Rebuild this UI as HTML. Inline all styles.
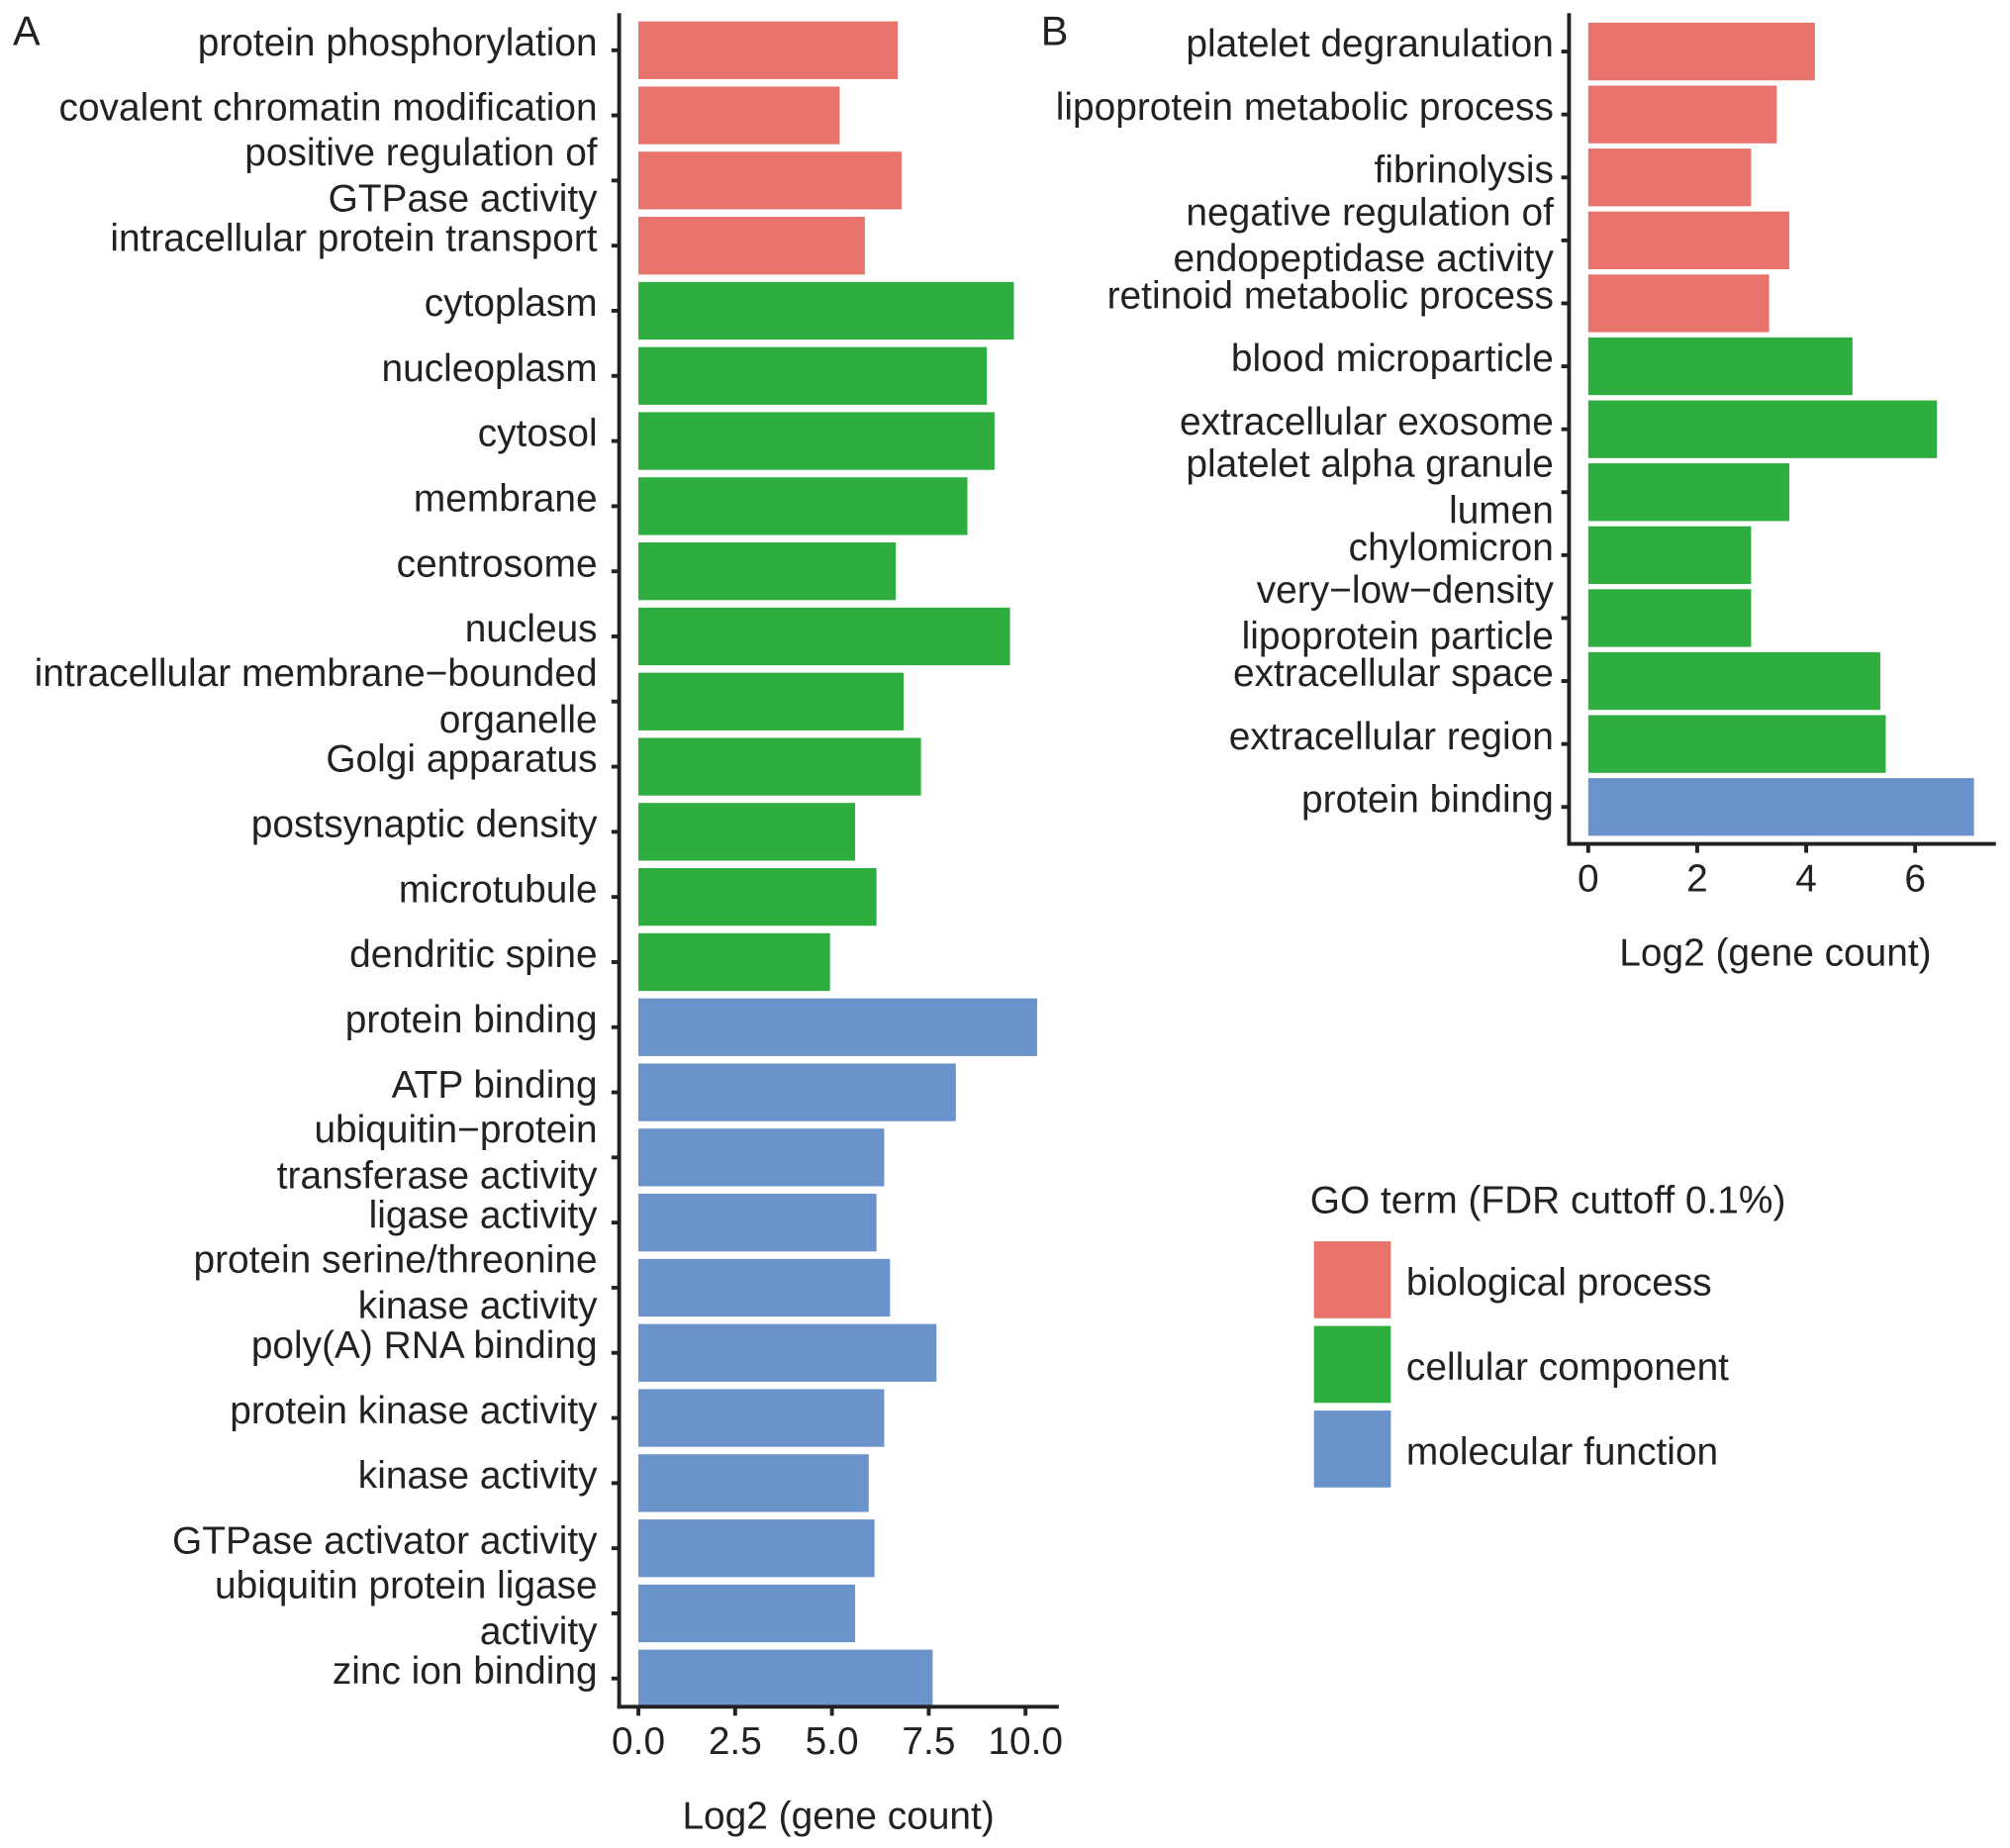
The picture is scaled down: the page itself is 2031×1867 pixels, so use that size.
<!DOCTYPE html>
<html><head><meta charset="utf-8">
<style>html,body{margin:0;padding:0;background:#fff}svg{display:block}
text{font-family:"Liberation Sans",Arial,sans-serif;fill:#222}</style></head>
<body>
<svg id="chart" width="2031" height="1867" viewBox="0 0 1568 1441" xmlns="http://www.w3.org/2000/svg">
<rect width="1568" height="1441" fill="#fff"/>
<g id="gA"></g>
<g id="gB"></g>
<g id="legend">
<text x="1022" y="946" font-size="30">GO term (FDR cuttoff 0.1%)</text>
<rect x="1025" y="968" width="60" height="60" fill="#E8736B"/>
<rect x="1025" y="1034" width="60" height="60" fill="#2DAE3E"/>
<rect x="1025" y="1100" width="60" height="60" fill="#6B93CB"/>
<text x="1097" y="1010" font-size="30">biological process</text>
<text x="1097" y="1076" font-size="30">cellular component</text>
<text x="1097" y="1142" font-size="30">molecular function</text>
</g>
<text x="10" y="35" font-size="32">A</text>
<text x="812" y="35" font-size="32">B</text>
</svg>
<script>
const catsA = ["protein phosphorylation","covalent chromatin modification","positive regulation of|GTPase activity","intracellular protein transport","cytoplasm","nucleoplasm","cytosol","membrane","centrosome","nucleus","intracellular membrane\u2212bounded|organelle","Golgi apparatus","postsynaptic density","microtubule","dendritic spine","protein binding","ATP binding","ubiquitin\u2212protein|transferase activity","ligase activity","protein serine/threonine|kinase activity","poly(A) RNA binding","protein kinase activity","kinase activity","GTPase activator activity","ubiquitin protein ligase|activity","zinc ion binding"];
const valsA = [6.7,5.2,6.8,5.85,9.7,9.0,9.2,8.5,6.65,9.6,6.85,7.3,5.6,6.15,4.95,10.3,8.2,6.35,6.15,6.5,7.7,6.35,5.95,6.1,5.6,7.6];
const groupA = ["bp","bp","bp","bp","cc","cc","cc","cc","cc","cc","cc","cc","cc","cc","cc","mf","mf","mf","mf","mf","mf","mf","mf","mf","mf","mf"];
const ticksA = ["0.0","2.5","5.0","7.5","10.0"];
const tickValsA = [0,2.5,5,7.5,10];
const catsB = ["platelet degranulation","lipoprotein metabolic process","fibrinolysis","negative regulation of|endopeptidase activity","retinoid metabolic process","blood microparticle","extracellular exosome","platelet alpha granule|lumen","chylomicron","very\u2212low\u2212density|lipoprotein particle","extracellular space","extracellular region","protein binding"];
const valsB = [4.16,3.46,2.99,3.69,3.32,4.85,6.4,3.69,2.99,2.99,5.36,5.46,7.08];
const groupB = ["bp","bp","bp","bp","bp","cc","cc","cc","cc","cc","cc","cc","mf"];
const ticksB = ["0","2","4","6"];
const tickValsB = [0,2,4,6];
const colors = {bp:"#E8736B", cc:"#2DAE3E", mf:"#6B93CB"};
const NS="http://www.w3.org/2000/svg";
function mk(tag, attrs, parent){const e=document.createElementNS(NS,tag);for(const k in attrs)e.setAttribute(k,attrs[k]);parent.appendChild(e);return e;}
function panel(g, cats, vals, grp, ticks, tickVals, cfg){
  const x = v => cfg.x0 + v*cfg.k;
  const y = i => cfg.yc0 + i*cfg.pitch;
  cats.forEach((c,i)=>{
    const r = mk("rect",{x:x(0),y:y(i)-cfg.bh/2,width:x(vals[i])-x(0),height:cfg.bh,fill:colors[grp[i]]},g);
    
    
    const tk = mk("line",{x1:cfg.ax-6,x2:cfg.ax,y1:y(i),y2:y(i),stroke:"#222","stroke-width":3},g);
    
    
    const lines = c.split("|");
    lines.forEach((ln,j)=>{
      const yy = y(i) + (lines.length===2 ? (j===0?-12:24) : 4);
      const t = mk("text",{x:cfg.lx,y:yy,"font-size":30,"text-anchor":"end"},g);
      t.textContent = ln;
      
      
    });
  });
  const ya = mk("line",{x1:cfg.ax,x2:cfg.ax,y1:cfg.ytop,y2:cfg.ybot+1.5,stroke:"#222","stroke-width":3},g);
  
  
  const xa = mk("line",{x1:cfg.ax-1.5,x2:cfg.xend,y1:cfg.ybot,y2:cfg.ybot,stroke:"#222","stroke-width":3},g);
  
  
  tickVals.forEach((v,i)=>{
    const l = mk("line",{x1:x(v),x2:x(v),y1:cfg.ybot,y2:cfg.ybot+7,stroke:"#222","stroke-width":3},g);
    
    
    const t = mk("text",{x:x(v),y:cfg.ybot+37,"font-size":30,"text-anchor":"middle"},g);
    t.textContent = ticks[i];
    
    
  });
  const tt = mk("text",{x:cfg.tx,y:cfg.ybot+95,"font-size":30,"text-anchor":"middle"},g);
  tt.textContent = "Log2 (gene count)";
  
  
}
panel(document.getElementById("gA"), catsA, valsA, groupA, ticksA, tickValsA,
  {x0:498,k:30.2,yc0:39,pitch:50.8,bh:45,ax:483,lx:466,ytop:10,ybot:1331,xend:826,tx:654});
panel(document.getElementById("gB"), catsB, valsB, groupB, ticksB, tickValsB,
  {x0:1239,k:42.5,yc0:40,pitch:49.1,bh:45,ax:1224,lx:1212,ytop:10,ybot:658,xend:1557,tx:1385});
</script>
</body></html>
